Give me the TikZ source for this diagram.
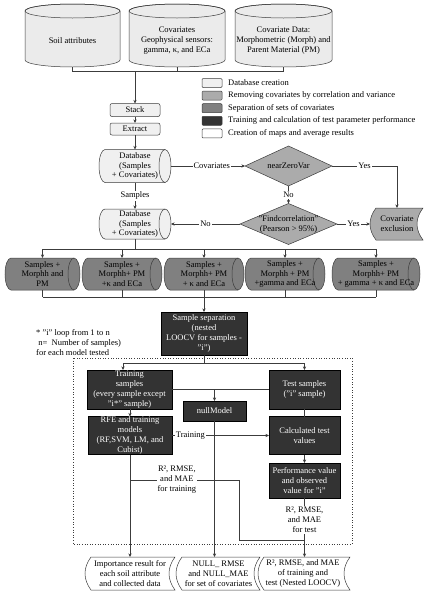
\documentclass[tikz,border=0pt]{standalone}
\usepackage{fontspec}
\setmainfont{Liberation Serif}
\usetikzlibrary{arrows.meta,calc,backgrounds}
\definecolor{ctop}{HTML}{EBEBEB}
\definecolor{cdb}{HTML}{F0F0F0}
\definecolor{crm}{HTML}{ABABAB}
\definecolor{csep}{HTML}{808080}
\definecolor{ctr}{HTML}{333333}
\definecolor{lc}{HTML}{3C3C3C}
\newcommand\vcylbg[3]{%
 \path[line,fill=#3] ([yshift=-7pt]#1.north west) -- ([yshift=7pt]#1.south west)
   arc[start angle=180,end angle=360,x radius=#2,y radius=7pt]
   -- ([yshift=-7pt]#1.north east)
   arc[start angle=0,end angle=180,x radius=#2,y radius=7pt] -- cycle;
 \path[line] ([yshift=-7pt]#1.north) ellipse[x radius=#2,y radius=7pt];}
\newcommand\hcylbg[3]{%
 \path[line,fill=#3] ([xshift=6pt]#1.north west) -- ([xshift=-6pt]#1.north east)
   arc[start angle=90,end angle=-90,x radius=6pt,y radius=#2]
   -- ([xshift=6pt]#1.south west)
   arc[start angle=270,end angle=90,x radius=6pt,y radius=#2] -- cycle;
 \path[line] ([xshift=-6pt]#1.north east) arc[start angle=90,end angle=270,x radius=6pt,y radius=#2];}
\newcommand\storebg[2]{%
 \path[line,fill=#2] (#1.north west) -- (#1.north east)
   .. controls ($(#1.north east)!0.33!(#1.south east)+(-8,0)$) and ($(#1.north east)!0.67!(#1.south east)+(-8,0)$) .. (#1.south east)
   -- (#1.south west)
   .. controls ($(#1.south west)!0.33!(#1.north west)+(-8,0)$) and ($(#1.south west)!0.67!(#1.north west)+(-8,0)$) .. (#1.north west) -- cycle;}
\newcommand\diambg[2]{%
 \path[line,fill=#2] (#1.north) -- (#1.east) -- (#1.south) -- (#1.west) -- cycle;}
\begin{document}
\begin{tikzpicture}[x=1pt,y=-1pt,font=\fontsize{8.5}{10}\selectfont,
  line/.style={draw=lc,line width=0.5pt},
  arr/.style={line,-{Stealth[length=3.6pt,width=3.2pt]}},
  shp/.style={rectangle,inner sep=0pt,outer sep=0pt,align=center},
  tight/.style={font=\fontsize{8.5}{9.3}\selectfont},
  txt/.style={inner sep=0pt,align=center},
  rbox/.style={shp,draw=lc,line width=0.5pt,fill=cdb,rounded corners=2pt},
  dark/.style={shp,draw=black,line width=0.5pt,fill=ctr,text=white},
  lbl/.style={fill=white,inner sep=1pt,align=center},
  legbox/.style={shp,draw=lc,line width=0.5pt,rounded corners=1pt,minimum width=20pt,minimum height=9pt}]
\useasboundingbox (0,0) rectangle (431,600);
\begin{scope}[on background layer]
 \fill[white] (0,0) rectangle (431,600);
\end{scope}

% top cylinders
\node[shp,minimum width=95pt,minimum height=63pt] (top1) at (72.5,35.5) {};
\node[txt] (top1t) at (72.5,41) {Soil attributes};
\node[shp,minimum width=96pt,minimum height=63pt] (top2) at (177,35.5) {};
\node[txt] (top2t) at (177,41) {Covariates\\Geophysical sensors:\\gamma, κ, and ECa};
\node[shp,minimum width=97pt,minimum height=63pt] (top3) at (283.5,35.5) {};
\node[txt] (top3t) at (283.5,41) {Covariate Data:\\Morphometric (Morph) and\\Parent Material (PM)};

\coordinate (bus) at (135,71);
\draw[line] (top1.south) -- (top1.south |- bus) -- (top3.south |- bus) -- (top3.south);
\draw[line] (top2.south) -- (top2.south |- bus);

% legend
\node[legbox,fill=cdb] (l1) at (212,83) {};
\node[txt,anchor=west] (l1t) at (228,83) {Database creation};
\node[legbox,fill=crm] (l2) at (212,95.6) {};
\node[txt,anchor=west] (l2t) at (228,95.6) {Removing covariates by correlation and variance};
\node[legbox,fill=csep] (l3) at (212,108.2) {};
\node[txt,anchor=west] (l3t) at (228,108.2) {Separation of sets of covariates};
\node[legbox,fill=ctr] (l4) at (212,120.8) {};
\node[txt,anchor=west] (l4t) at (228,120.8) {Training and calculation of test parameter performance};
\node[legbox,fill=white] (l5) at (212,133.4) {};
\node[txt,anchor=west] (l5t) at (228,133.4) {Creation of maps and average results};

% stack / extract
\node[rbox,minimum width=50pt,minimum height=13pt] (stack) at (135,110) {Stack};
\node[rbox,minimum width=50pt,minimum height=12pt] (extract) at (135,129) {Extract};
\draw[arr] (bus) -- (stack.north);
\draw[arr] (stack) -- (extract);

% databases
\node[shp,tight,minimum width=72pt,minimum height=33pt] (db1) at (135,166) {Database\\(Samples\\+ Covariates)};
\node[shp,tight,minimum width=72pt,minimum height=30pt] (db2) at (135,224) {Database\\(Samples\\+ Covariates)};
\draw[arr] (extract) -- (db1);
\draw[arr] (db1.south) -- node[lbl]{Samples} (db2.north);

% diamonds
\node[shp,minimum width=87pt,minimum height=40pt] (nzv) at (288.5,166) {nearZeroVar};
\node[shp,minimum width=97pt,minimum height=41pt] (fc) at (288.5,224) {"Findcorrelation"\\(Pearson > 95\%)};
\node[shp,minimum width=47pt,minimum height=32pt] (covex) at (399.5,224) {};
\node[txt] (covext) at (397,224) {Covariate\\exclusion};
\coordinate (cxin) at ([xshift=-6pt]covex.west);

\draw[arr] (db1.east) -- node[lbl,pos=0.55]{Covariates} (nzv.west);
\draw[arr] (nzv.east) -| node[lbl,pos=0.25]{Yes} ([xshift=-2.5pt]covex.north);
\draw[arr] (nzv.south) -- node[lbl]{No} (fc.north);
\draw[arr] (fc.east) -- node[lbl]{Yes} (cxin);
\draw[arr] (fc.west) -- node[lbl]{No} (db2.east);

% sets of covariates
\node[shp,tight,minimum width=75pt,minimum height=32pt] (s1) at (42.5,274) {Samples +\\Morphh and\\PM};
\node[shp,tight,minimum width=80pt,minimum height=32pt] (s2) at (122,274) {Samples +\\Morphh+ PM\\+κ and ECa};
\node[shp,tight,minimum width=80pt,minimum height=32pt] (s3) at (204,274) {Samples +\\Morphh+ PM\\+ κ and ECa};
\node[shp,tight,minimum width=80pt,minimum height=32pt] (s4) at (285,274) {Samples +\\Morphh + PM\\+gamma and ECa};
\node[shp,tight,minimum width=88pt,minimum height=32pt] (s5) at (376,274) {Samples +\\Morphh+ PM\\+ gamma + κ and ECa};

\coordinate (bus2) at (135,249);
\coordinate (bus3) at (204,297);
\draw[line] (db2.south) -- (bus2);
\draw[line] (s1.north |- bus2) -- (s5.north |- bus2);
\draw[line] (s1.south |- bus3) -- (s5.south |- bus3);
\foreach \s in {s1,s2,s3,s4,s5}{
  \draw[arr] (\s.north |- bus2) -- (\s.north);
  \draw[line] (\s.south) -- (\s.south |- bus3);
}

% sample separation
\node[dark,minimum width=86pt,minimum height=43pt] (sep) at (204,333.5) {Sample separation\\(nested\\LOOCV for samples -\\"i")};
\draw[arr] (bus3) -- (sep.north);

\node[txt,anchor=north west,align=left] (note) at (36,329) {* "i" loop from 1 to n\\\ n=\ \ Number of samples)\\for each model tested};

\draw[lc,dotted,line width=0.6pt] (73,358) rectangle (352,544);

\node[dark,minimum width=85pt,minimum height=39pt] (train) at (129.5,389.5) {Training\\samples\\(every sample except\\"i*" sample)};
\node[dark,minimum width=71pt,minimum height=39pt] (test) at (304.5,389.5) {Test samples\\("i" sample)};
\node[dark,minimum width=63pt,minimum height=20pt] (null) at (214.5,411) {nullModel};
\node[dark,minimum width=84pt,minimum height=38pt] (rfe) at (130,435.5) {RFE and training\\models\\(RF,SVM, LM, and\\Cubist)};
\node[dark,minimum width=71pt,minimum height=38pt] (calc) at (304.5,435.5) {Calculated test\\values};
\node[dark,minimum width=71pt,minimum height=35pt] (perf) at (304.5,480.5) {Performance value\\and observed\\value for "i"};

\coordinate (split) at (204,363);
\draw[line] (sep.south) -- (split);
\draw[arr] (split) -| ([xshift=-6.5pt]train.north);
\draw[arr] (split) -| (test.north);
\draw[line] (train.east) -- (test.west);
\draw[arr] (train.east -| null.north) -- (null.north);
\draw[arr] (train.south -| rfe.north) -- (rfe.north);
\draw[line] (test.south) -- (calc.north);
\draw[arr] (rfe.east) -- node[lbl,pos=0.19]{Training} (calc.west);
\draw[arr] (calc) -- (perf);

% outputs
\node[shp,minimum width=84pt,minimum height=33pt] (out1) at (133,573.5) {};
\node[txt] (out1t) at (130,573.5) {Importance result for\\each soil attribute\\and collected data};
\node[shp,minimum width=78pt,minimum height=33pt] (out2) at (221,573.5) {};
\node[txt] (out2t) at (218.5,573.5) {NULL\_ RMSE\\and NULL\_MAE\\for set of covariates};
\node[shp,minimum width=86pt,minimum height=33pt] (out3) at (307,573.5) {};
\node[txt] (out3t) at (303,573.5) {R², RMSE, and MAE\\of training and\\test (Nested LOOCV)};

\coordinate (tj) at (130,480);
\coordinate (tk) at (239,480);
\coordinate (tl) at (239,540);
\draw[arr] (rfe.south) -- (rfe.south |- out1.north);
\draw[arr] (null.south) -- (null.south |- out2.north);
\draw[arr] (perf.south) -- node[lbl,pos=0.37]{R², RMSE,\\and MAE\\for test} (perf.south |- out3.north);
\draw[line] (tj) -- node[lbl,pos=0.43]{R², RMSE,\\and MAE\\for training} (tk) -- (tl) -- (tl -| perf.south);

% shape outlines
\begin{scope}[on background layer]
 \vcylbg{top1}{47.5pt}{ctop}
 \vcylbg{top2}{48pt}{ctop}
 \vcylbg{top3}{48.5pt}{ctop}
 \hcylbg{db1}{16.5pt}{cdb}
 \hcylbg{db2}{15pt}{cdb}
 \foreach \s in {s1,s2,s3,s4,s5}{\hcylbg{\s}{16pt}{csep}}
 \diambg{nzv}{crm}
 \diambg{fc}{crm}
 \storebg{covex}{crm}
 \storebg{out1}{white}
 \storebg{out2}{white}
 \storebg{out3}{white}
\end{scope}
\end{tikzpicture}
\end{document}
